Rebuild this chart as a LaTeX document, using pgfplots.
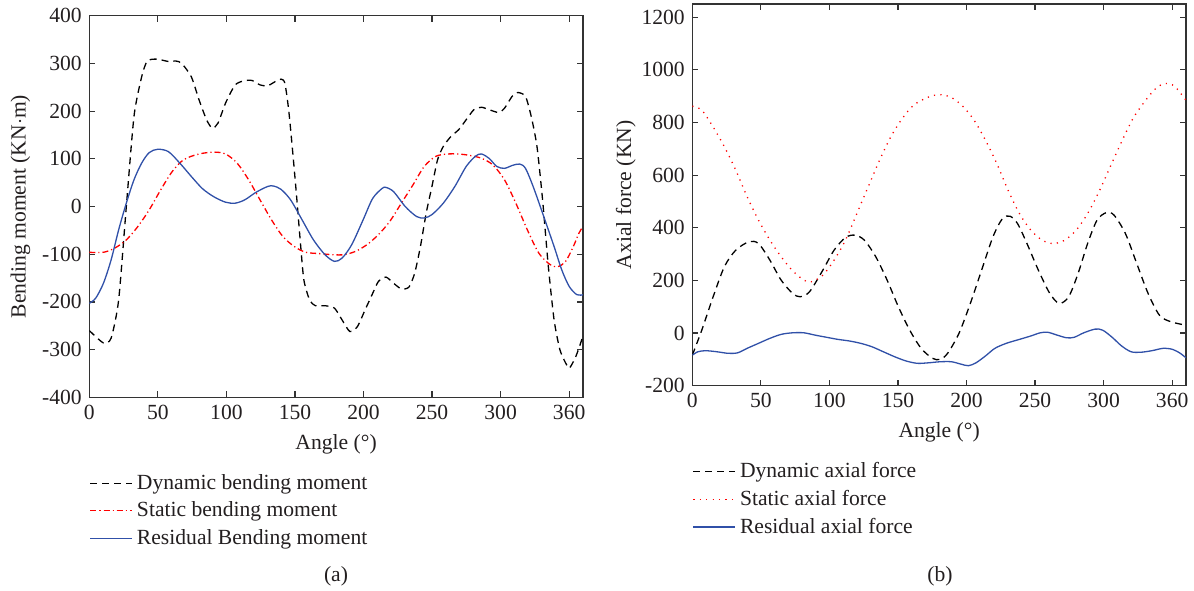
\documentclass[border=0pt]{standalone}
\usepackage{pgfplots}
\pgfplotsset{compat=1.18}
\usepackage{fontspec}
\setmainfont{Liberation Serif}
\definecolor{txt}{HTML}{231F20}
\definecolor{axc}{HTML}{333333}
\definecolor{resblue}{HTML}{3050A8}
\pgfplotsset{
  common/.style={
    scale only axis,
    width=246.8pt, height=190.8pt,
    xmin=0, xmax=360,
    xtick={0,50,100,150,200,250,300,350},
    xticklabels={0,50,100,150,200,250,300,360},
    tick align=inside,
    major tick length=3pt,
    axis line style={axc, line width=0.65pt},
    every tick/.style={axc, line width=0.6pt},
    /pgf/number format/assume math mode=true,
    /pgf/number format/1000 sep={},
    tick label style={txt},
    label style={txt},
    xlabel={Angle (°)},
    legend cell align=left,
    legend style={draw=none, fill=none, inner sep=0pt, row sep=0.6pt, text=txt,
      nodes={inner sep=2pt}},
    legend image code/.code={\draw[#1] (0pt,0pt) -- (18pt,0pt); \path (0pt,0pt) -- (21pt,0pt);},
    clip=true,
  },
}
\begin{document}
\fontsize{10.8pt}{12.5pt}\selectfont
\begin{tikzpicture}[x=1pt,y=1pt]
\useasboundingbox (0,0) rectangle (597,295);
\begin{axis}[common,
  at={(44.65pt,96.35pt)}, anchor=south west,
  ymin=-400, ymax=400, ytick={-400,-300,...,400},
  ylabel={Bending moment (KN$\cdot$m)},
  ylabel shift=-1.5pt,
  legend style={at={(rel axis cs:0,-0.19)}, anchor=north west},
]
\addplot[black, line width=0.65pt, dash pattern=on 3.5pt off 2.5pt, smooth, tension=0.4] coordinates {
(0,-260) (10.3,-286) (15.9,-276) (21.4,-196) (27,0) (32.6,189) (38.2,272) (42.3,305)
(49.3,309) (57.7,304) (63.2,305) (67.4,300) (74.4,272) (80,224) (85.5,182) (89.7,164)
(93.9,175) (99.4,217) (106.4,255) (113.4,264) (118.9,264) (124.5,255) (130,253)
(135.7,262) (139.8,267) (142.6,259) (145.4,203) (148.2,119) (151,28) (153.8,-70)
(156.5,-154) (160.7,-196) (164.9,-208) (171.9,-208) (178.8,-213) (184.4,-238) (190,-262)
(195.5,-252) (201.1,-217) (206.7,-182) (210.9,-157) (216.4,-148) (222,-161) (227.6,-173)
(233.1,-169) (237.3,-140) (241.5,-84) (245.7,-14) (249.9,42) (254,98) (258.2,126)
(263.8,147) (269.4,161) (274.9,182) (280.5,203) (286.1,208) (291.6,203) (298.6,197)
(302.8,206) (308.4,231) (312.5,239) (318.1,231) (322.3,189) (326.5,126) (330.6,14)
(334.8,-126) (339,-238) (343.2,-300) (347.4,-328) (350.1,-339) (354.3,-318) (357.1,-297) (360,-272)
};
\addlegendentry{Dynamic bending moment}
\addplot[red, line width=0.65pt, dash pattern=on 3pt off 1.5pt on 0.6pt off 1.5pt, smooth] coordinates {
(0,-96) (10.3,-96) (18.7,-87) (27,-70) (35.4,-42) (43.7,-7) (52.1,35) (60.4,73) (68.8,98)
(79.9,110) (91.1,114) (99.4,110) (107.8,91) (116.2,56) (124.5,14) (132.9,-28) (141.2,-63)
(149.6,-84) (157.9,-96) (169.1,-99) (177.4,-101) (185.8,-101) (194.2,-94) (202.5,-80)
(210.9,-59) (219.2,-31) (227.6,7) (236,45) (244.3,84) (252.6,105) (261,110) (269.4,110)
(277.7,107) (286.1,101) (294.4,87) (302.8,56) (311.1,7) (319.5,-49) (327.9,-98) (336.2,-122)
(341.8,-126) (347.4,-115) (353,-84) (357.1,-56) (360,-42)
};
\addlegendentry{Static bending moment}
\addplot[resblue, line width=0.65pt, smooth] coordinates {
(0,-203) (4.7,-192) (10.3,-161) (15.9,-112) (21.4,-49) (27,7) (32.6,56) (38.2,91) (43.7,113)
(49.9,120) (57.7,115) (66,91) (74.4,63) (82.7,37) (91.1,20) (99.4,9) (106.4,7) (113.4,14)
(121.7,30) (130.1,42) (134.3,43) (139.8,36) (146.8,14) (155.2,-28) (163.5,-70) (171.9,-101)
(178.8,-115) (184.4,-108) (191.4,-80) (199.7,-28) (206.7,17) (213.6,38) (216.4,40) (222,31)
(230.4,0) (238.7,-21) (244.3,-24) (249.9,-17) (258.2,7) (266.6,42) (274.9,84) (281.9,106)
(286.1,110) (291.6,101) (297.2,84) (302.8,80) (308.4,86) (313.9,89) (318.1,80) (323.7,42)
(330.6,-14) (339,-84) (344.6,-133) (350.1,-168) (355.7,-185) (360,-185)
};
\addlegendentry{Residual Bending moment}
\end{axis}
\begin{axis}[common,
  at={(346.15pt,102.15pt)}, anchor=south west,
  ymin=-200, ymax=1250, ytick={-200,0,...,1200},
  ylabel={Axial force (KN)},
  ylabel shift=-4.5pt,
  legend style={at={(rel axis cs:0,-0.19)}, anchor=north west},
]
\addplot[black, line width=0.65pt, dash pattern=on 3.5pt off 2.5pt, smooth] coordinates {
(0,-84) (6.9,11) (15.2,138) (23.4,252) (31.7,315) (41.4,347) (48.3,340) (56.6,277) (64.8,201)
(73.1,151) (78.6,138) (85.5,157) (95.2,239) (103.4,315) (111.7,363) (118.6,372) (125.5,353)
(133.8,290) (142.1,201) (150.3,100) (158.6,11) (166.9,-58) (175.2,-96) (180.7,-100)
(186.2,-77) (194.5,-1) (202.8,113) (211,239) (219.3,366) (226.2,435) (231.7,444) (237.2,416)
(244.1,340) (252.4,239) (260.7,151) (267.6,113) (274.5,138) (281.4,227) (288.3,340)
(295.2,429) (302.1,458) (307.6,448) (315.9,378) (324.1,265) (332.4,151) (340.7,68) (349,43) (360,30)
};
\addlegendentry{Dynamic axial force}
\addplot[red, line width=0.65pt, dash pattern=on 0.6pt off 2.6pt, smooth] coordinates {
(0,862) (6.9,847) (15.2,783) (23.4,708) (31.7,619) (40,518) (48.3,429) (56.6,353) (64.8,290)
(73.1,237) (81.4,201) (86.9,195) (95.2,220) (103.4,277) (111.7,353) (120,454) (128.3,556)
(136.6,657) (144.8,746) (153.1,815) (161.4,866) (172.4,897) (180.7,906) (189,895) (197.2,862)
(205.5,809) (213.8,733) (222.1,644) (230.3,543) (238.6,454) (246.9,391) (255.2,353) (263.4,340)
(271.7,353) (280,391) (288.3,454) (296.6,537) (304.8,632) (313.1,727) (321.4,815) (329.7,878)
(337.9,929) (344.8,948) (351.7,938) (360,885)
};
\addlegendentry{Static axial force}
\addplot[resblue, line width=0.65pt, smooth] coordinates {
(0,-84) (4.1,-71) (9.7,-67) (17.9,-71) (26.2,-77) (33.1,-75) (40,-58) (48.3,-39) (56.6,-20)
(64.8,-5) (73.1,1) (81.4,1) (89.7,-8) (97.9,-16) (106.2,-24) (114.5,-30) (122.8,-39) (131,-52)
(139.3,-71) (147.6,-90) (155.9,-106) (164.1,-115) (172.4,-113) (180.7,-109) (189,-109)
(195.9,-118) (201.4,-124) (206.9,-113) (213.8,-87) (220.7,-58) (229,-39) (238.6,-24)
(246.9,-11) (253.8,1) (259.3,3) (266.2,-8) (273.1,-18) (278.6,-16) (285.5,1) (293.8,15)
(299.3,11) (306.2,-16) (313.1,-49) (320,-71) (326.9,-73) (335.2,-67) (343.4,-58) (350.3,-62)
(355.9,-77) (360,-94)
};
\addlegendentry{Residual axial force}
\end{axis}
\node[txt] at (168,7) {(a)};
\node[txt] at (470,7) {(b)};
\end{tikzpicture}
\end{document}
